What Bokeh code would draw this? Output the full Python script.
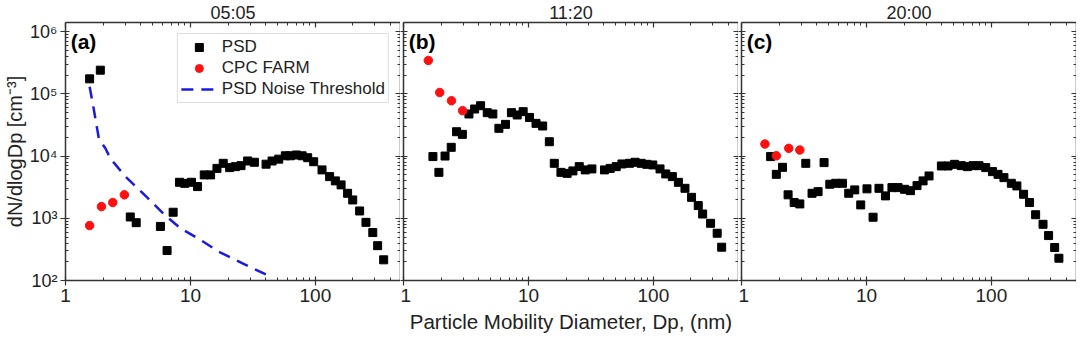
from bokeh.plotting import figure
from bokeh.layouts import row
from bokeh.models import (LogAxis, FixedTicker, Range1d, Legend, LegendItem, Label)
from bokeh.embed import file_html
from bokeh.resources import INLINE

# ---------------- data ----------------
panel_titles = ["05:05", "11:20", "20:00"]
panel_letters = ["(a)", "(b)", "(c)"]

a_psd_dp = [1.56, 1.9, 3.3, 3.68, 5.75, 6.5, 7.27, 8.17, 9.0, 10.2, 11.4, 12.9, 14.5, 16.3,
            18.3, 20.6, 22.9, 25.4, 28.7, 32.5, 40.3, 45, 50.9, 57.5, 63, 70.5, 78.3, 86.8,
            96.9, 113, 130, 144.5, 160.6, 181, 199, 226, 254, 288, 315, 352]
a_psd_n = [1.74e5, 2.4e5, 1050, 850, 740, 303, 1250, 3790, 3640, 3790, 3230, 4980, 4980, 6330,
           7640, 6520, 6760, 7010, 8330, 7940, 7400, 8330, 8920, 10100, 10100, 10400, 10100, 9400,
           8100, 5990, 4670, 3990, 3440, 2520, 1970, 1310, 860, 590, 363, 215]
a_cpc_dp = [1.56, 1.94, 2.39, 2.96]
a_cpc_n = [764, 1540, 1790, 2380]
noise_dp = [1.56, 1.68, 1.85, 2.09, 2.29, 2.59, 3.02, 4.5, 6.11, 8.32, 12.0, 16.8, 25.9, 45.0]
noise_n = [1.3e5, 5.8e4, 1.9e4, 1.32e4, 9080, 6760, 4680, 2160, 1170, 692, 450, 292, 190, 112]

b_psd_dp = [1.72, 1.92, 2.15, 2.41, 2.66, 2.96, 3.34, 3.71, 4.14, 4.68, 5.19, 5.8, 6.55, 7.31,
            8.13, 9.07, 10.2, 11.5, 13.0, 14.7, 16.1, 18.2, 20.4, 22.7, 25.5, 28.5, 32.2, 40.6,
            45.1, 50.4, 56, 64.3, 71.4, 79.8, 88.6, 98.9, 113, 125.6, 141.8, 158.5, 179, 202,
            228.6, 248, 287, 324, 352]
b_psd_n = [9800, 5470, 10000, 13800, 24600, 22300, 47400, 57000, 64400, 49800, 47400, 27900,
           32300, 49800, 45700, 51700, 41700, 33500, 30400, 17000, 7640, 5470, 5270, 5770, 6760,
           5990, 6210, 5990, 6330, 6760, 7460, 7640, 7940, 7640, 7360, 7190, 6210, 5160, 4670,
           3780, 3030, 2170, 1600, 1170, 830, 575, 343]
b_cpc_dp = [1.58, 1.95, 2.42, 2.97]
b_cpc_n = [3.44e5, 1.05e5, 7.74e4, 5.36e4]

c_psd_dp = [1.71, 1.9, 2.13, 2.36, 2.64, 2.93, 3.27, 3.67, 4.1, 4.58, 5.09, 5.68, 6.43, 7.21,
            8.06, 9.0, 10.1, 11.3, 12.6, 14.2, 16.0, 17.9, 20.2, 22.5, 25.4, 28.4, 31.7, 39.8,
            45, 50.8, 57.5, 64.3, 71.3, 79.6, 90.1, 102, 113, 126, 144.5, 160, 181, 202, 226,
            259, 287, 321, 347]
c_psd_n = [9800, 5080, 6590, 2380, 1790, 1700, 7640, 2520, 2680, 7840, 3520, 3650, 3650, 2520,
           2860, 1640, 2970, 1040, 3030, 2290, 3110, 3110, 2920, 2780, 3350, 3990, 4790, 6930,
           6930, 7360, 7010, 6760, 7010, 7010, 6520, 5620, 5080, 4500, 3650, 3310, 2430, 1790,
           1140, 800, 527, 339, 228]
c_cpc_dp = [1.54, 1.9, 2.39, 2.93]
c_cpc_n = [1.56e4, 1.01e4, 1.33e4, 1.25e4]

x_tick_values = [1, 10, 100]
x_tick_labels = ["1", "10", "100"]
x_minor_values = [2, 3, 4, 5, 6, 7, 8, 9, 20, 30, 40, 50, 60, 70, 80, 90, 200, 300, 400]
y_tick_values = [100, 1000, 10000, 100000, 1000000]
y_tick_labels = ["10\u00b2", "10\u00b3", "10\u2074", "10\u2075", "10\u2076"]
y_minor_values = [m * d for d in [100, 1000, 10000, 100000, 1000000] for m in range(2, 10)]

x_label = "Particle Mobility Diameter, Dp, (nm)"
y_label = "dN/dlogDp [cm\u207b\u00b3]"
legend_labels = ["PSD", "CPC FARM", "PSD Noise Threshold"]

# ---------------- style ----------------
FONT = "Liberation Sans"
AX = "#333333"
TXT = "#222222"
X_MIN, X_MAX = 1, 480
Y_MIN, Y_MAX = 100, 1.4e6


def x_ticker():
    return FixedTicker(ticks=x_tick_values, minor_ticks=x_minor_values)


def y_ticker():
    return FixedTicker(ticks=y_tick_values, minor_ticks=y_minor_values)


def style_axis(ax, tin, tout, labels, size="19px"):
    ax.axis_line_color = AX
    ax.axis_line_width = 1.5
    ax.major_tick_line_color = AX
    ax.minor_tick_line_color = AX
    ax.major_tick_line_width = 1.2
    ax.minor_tick_line_width = 1
    ax.major_tick_in = tin
    ax.major_tick_out = tout
    ax.minor_tick_in = 3 if tin else 0
    ax.minor_tick_out = 0 if tin else 3
    ax.major_label_text_font = FONT
    ax.major_label_text_color = TXT
    ax.major_label_text_font_size = size
    ax.major_label_overrides = labels
    ax.major_label_standoff = 3


def hide_labels(ax):
    ax.major_label_text_font_size = "0px"
    ax.major_label_standoff = 0


def make_panel(idx, psd_dp, psd_n, cpc_dp, cpc_n, left_border, right_border):
    p = figure(x_axis_type="log", y_axis_type="log",
               x_range=Range1d(X_MIN, X_MAX), y_range=Range1d(Y_MIN, Y_MAX),
               frame_width=335, frame_height=258,
               output_backend="svg", toolbar_location=None,
               min_border_left=left_border, min_border_right=right_border,
               min_border_top=0, min_border_bottom=0)
    p.background_fill_color = "white"
    p.border_fill_color = "white"
    p.outline_line_color = None
    p.grid.visible = False

    p.title.text = panel_titles[idx]
    p.title.align = "center"
    p.title.text_font = FONT
    p.title.text_font_size = "18px"
    p.title.text_font_style = "normal"
    p.title.text_color = TXT
    p.title.offset = 0
    p.title.standoff = 0

    xb = p.xaxis[0]
    xb.ticker = x_ticker()
    style_axis(xb, 4, 5, dict(zip(x_tick_values, x_tick_labels)))
    yl = p.yaxis[0]
    yl.ticker = y_ticker()
    if idx == 0:
        style_axis(yl, 4, 5, dict(zip(y_tick_values, y_tick_labels)), "18px")
        yl.axis_label = y_label
        yl.axis_label_text_font = FONT
        yl.axis_label_text_font_size = "20px"
        yl.axis_label_text_font_style = "normal"
        yl.axis_label_text_color = TXT
        yl.axis_label_standoff = 1
    else:
        style_axis(yl, 4, 3, {v: "" for v in y_tick_values})
        hide_labels(yl)

    top = LogAxis(ticker=x_ticker())
    style_axis(top, 5, 0, {v: "" for v in x_tick_values})
    hide_labels(top)
    p.add_layout(top, "above")
    rgt = LogAxis(ticker=y_ticker())
    style_axis(rgt, 5, 0, {v: "" for v in y_tick_values})
    hide_labels(rgt)
    p.add_layout(rgt, "right")

    if idx == 1:
        xb.axis_label = x_label
        xb.axis_label_text_font = FONT
        xb.axis_label_text_font_size = "20.5px"
        xb.axis_label_text_font_style = "normal"
        xb.axis_label_text_color = TXT
        xb.axis_label_standoff = 5

    r_noise = None
    if idx == 0:
        r_noise = p.line(noise_dp, noise_n, line_color="#1a1ae6", line_width=2.5,
                         line_dash="12 8")
    r_psd = p.scatter(psd_dp, psd_n, marker="square", size=8, fill_color="black",
                      line_color="black")
    r_cpc = p.scatter(cpc_dp, cpc_n, marker="circle", size=8.5, fill_color="#ff1010",
                      line_color="#ff1010")

    p.add_layout(Label(x=1.1, y=7.0e5, text=panel_letters[idx], text_font=FONT,
                       text_font_size="21px", text_font_style="bold", text_color="black",
                       text_baseline="middle"))

    if idx == 0:
        leg = Legend(items=[LegendItem(label=legend_labels[0], renderers=[r_psd]),
                            LegendItem(label=legend_labels[1], renderers=[r_cpc]),
                            LegendItem(label=legend_labels[2], renderers=[r_noise])],
                     location="top_right")
        leg.margin = 11
        leg.padding = 3
        leg.spacing = 1
        leg.glyph_width = 36
        leg.glyph_height = 20
        leg.label_height = 20
        leg.label_standoff = 5
        leg.label_text_font = FONT
        leg.label_text_font_size = "17px"
        leg.label_text_color = TXT
        leg.border_line_color = "#bbbbbb"
        leg.border_line_width = 1
        leg.background_fill_color = "white"
        leg.background_fill_alpha = 1
        p.add_layout(leg)
    return p


p1 = make_panel(0, a_psd_dp, a_psd_n, a_cpc_dp, a_cpc_n, 65, 0)
p2 = make_panel(1, b_psd_dp, b_psd_n, b_cpc_dp, b_cpc_n, 0, 0)
p3 = make_panel(2, c_psd_dp, c_psd_n, c_cpc_dp, c_cpc_n, 0, 0)

layout = row(p1, p2, p3)
layout.spacing = 0
open("out.html", "w").write(file_html(layout, INLINE))
